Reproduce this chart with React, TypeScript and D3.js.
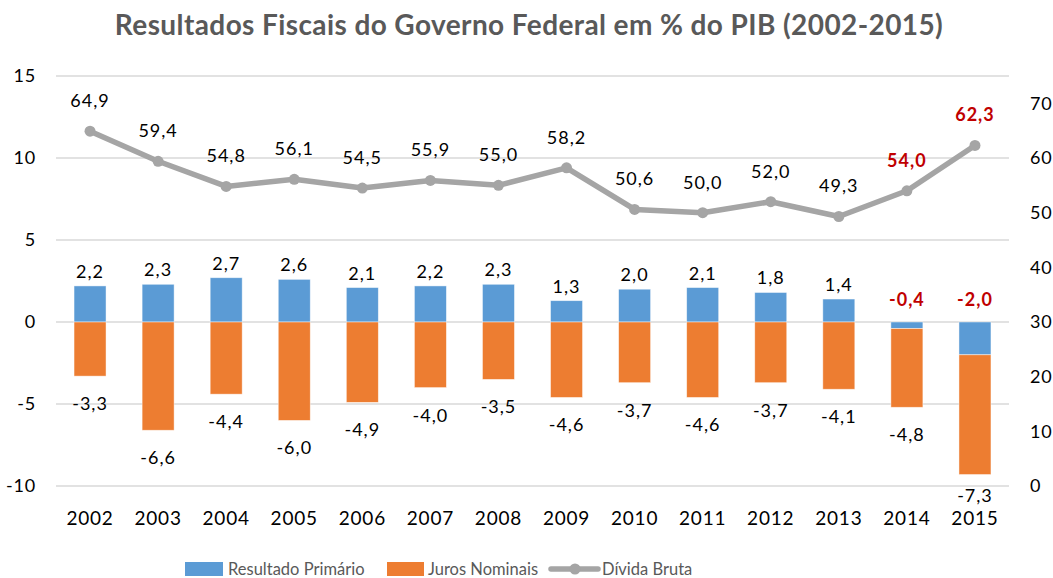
import React from "react";
import * as d3 from "d3";

const years = ["2002","2003","2004","2005","2006","2007","2008","2009","2010","2011","2012","2013","2014","2015"];
const primario = [2.2,2.3,2.7,2.6,2.1,2.2,2.3,1.3,2.0,2.1,1.8,1.4,-0.4,-2.0];
const juros = [-3.3,-6.6,-4.4,-6.0,-4.9,-4.0,-3.5,-4.6,-3.7,-4.6,-3.7,-4.1,-4.8,-7.3];
const divida = [64.9,59.4,54.8,56.1,54.5,55.9,55.0,58.2,50.6,50.0,52.0,49.3,54.0,62.3];
const highlightYears = ["2014","2015"];
const leftTicks = [-10,-5,0,5,10,15];
const rightTicks = [0,10,20,30,40,50,60,70];
const seriesNames = ["Resultado Primário","Juros Nominais","Dívida Bruta"];
const title = "Resultados Fiscais do Governo Federal em % do PIB (2002-2015)";

const W = 1053, H = 578;
const BLUE = "#5B9BD5", ORANGE = "#ED7D31", GRAY = "#A5A5A5", RED = "#C00000";
const FONT = "Lato, 'Open Sans', sans-serif";

const fmt = (v: number) => v.toFixed(1).replace(".", ",");

export default function App() {
  const x = d3.scaleBand<string>().domain(years).range([56, 1009]).padding(0);
  const yL = d3.scaleLinear().domain([-10, 15]).range([486, 76]);
  const yR = d3.scaleLinear().domain([0, 75]).range([486, 76]);
  const bw = x.bandwidth() * 0.47;
  const cx = (y: string) => (x(y) as number) + x.bandwidth() / 2;

  const line = d3.line<number>()
    .x((_, i) => cx(years[i]))
    .y((d) => yR(d));

  return (
    <svg width={W} height={H} style={{ position: "absolute", left: 0, top: 0, display: "block", background: "#fff" }}
      fontFamily={FONT}>
      <text x={529} y={35} textAnchor="middle" fontSize={28} fontWeight={700} fill="#595959" letterSpacing={0.4}>{title}</text>

      {leftTicks.map((t) => (
        <g key={"gl" + t}>
          <line x1={56} x2={1009} y1={yL(t)} y2={yL(t)} stroke="#D9D9D9" strokeWidth={1.5} />
          <text x={36} y={yL(t)} dy="0.36em" textAnchor="end" fontSize={18} fill="#000" letterSpacing={0.8}>{t}</text>
        </g>
      ))}
      {rightTicks.map((t) => (
        <text key={"rt" + t} x={1030} y={yR(t)} dy="0.36em" textAnchor="start" fontSize={18} fill="#000" letterSpacing={0.8}>{t}</text>
      ))}

      {years.map((yr, i) => {
        const p = primario[i];
        const j = juros[i];
        const base = p < 0 ? p : 0;
        const c = cx(yr);
        return (
          <g key={"b" + yr}>
            <rect x={c - bw / 2} width={bw} y={Math.min(yL(0), yL(p))} height={Math.abs(yL(p) - yL(0))}
              fill={BLUE} stroke="#fff" strokeOpacity={0.6} strokeWidth={0.75} />
            <rect x={c - bw / 2} width={bw} y={yL(base)} height={yL(base + j) - yL(base)}
              fill={ORANGE} stroke="#fff" strokeOpacity={0.6} strokeWidth={0.75} />
          </g>
        );
      })}

      <path d={line(divida) || ""} fill="none" stroke={GRAY} strokeWidth={5.5} strokeLinejoin="round" strokeLinecap="round" />
      {years.map((yr, i) => (
        <circle key={"m" + yr} cx={cx(yr)} cy={yR(divida[i])} r={5.5} fill={GRAY} />
      ))}

      {years.map((yr, i) => {
        const hl = highlightYears.includes(yr);
        const p = primario[i];
        const j = juros[i];
        const base = p < 0 ? p : 0;
        const c = cx(yr);
        const pY = p >= 0 ? yL(p) - 8 : yL(0) - 16;
        const jY = Math.min(yL(base + j) + 34, 502);
        return (
          <g key={"l" + yr} fontSize={18} letterSpacing={1}>
            <text x={c} y={yR(divida[i]) - 24} textAnchor="middle"
              fill={hl ? RED : "#000"} fontWeight={hl ? 700 : 400}>{fmt(divida[i])}</text>
            <text x={c} y={pY} textAnchor="middle"
              fill={hl ? RED : "#000"} fontWeight={hl ? 700 : 400}>{fmt(p)}</text>
            <text x={c} y={jY} textAnchor="middle" fill="#000">{fmt(j)}</text>
          </g>
        );
      })}

      {years.map((yr) => (
        <text key={"c" + yr} x={cx(yr)} y={525} textAnchor="middle" fontSize={19} fill="#000" letterSpacing={0.8}>{yr}</text>
      ))}

      <g fontSize={16.5} fill="#595959">
        <rect x={185} y={562} width={38} height={14} fill={BLUE} />
        <text x={228} y={575}>{seriesNames[0]}</text>
        <rect x={387} y={562} width={37} height={14} fill={ORANGE} />
        <text x={428} y={575}>{seriesNames[1]}</text>
        <line x1={551} x2={598} y1={569} y2={569} stroke={GRAY} strokeWidth={5.5} strokeLinecap="round" />
        <circle cx={575} cy={569} r={5.5} fill={GRAY} />
        <text x={602} y={575}>{seriesNames[2]}</text>
      </g>
    </svg>
  );
}
